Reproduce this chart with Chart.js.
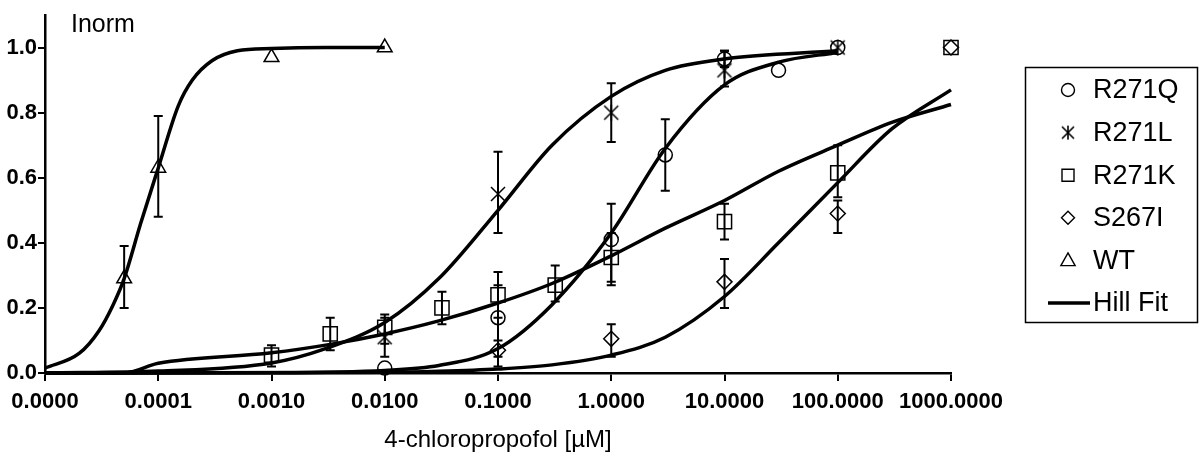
<!DOCTYPE html>
<html>
<head>
<meta charset="utf-8">
<script src="https://cdn.jsdelivr.net/npm/chart.js@4.4.1/dist/chart.umd.min.js"></script>
<style>
  body { margin: 0; background: #fff; }
  #wrap { width: 1200px; height: 458px; }
</style>
</head>
<body>
<div id="wrap"><canvas id="chart" width="1200" height="458"></canvas></div>
<script>
// axis ticks
const xTicks = [0.00001, 0.0001, 0.001, 0.01, 0.1, 1, 10, 100, 1000];
const yTicks = [0, 0.2, 0.4, 0.6, 0.8, 1.0];

// measured points (conc in µM, Inorm, error bar low/high)
const r271qX = [0.01, 0.1, 1, 3, 10, 30, 100];
const r271qY = [0.015, 0.17, 0.41, 0.67, 0.965, 0.93, 1.0];
const r271qLo = [null, 0.05, 0.27, 0.56, 0.94, null, null];
const r271qHi = [null, 0.27, 0.52, 0.78, 0.99, null, null];

const r271lX = [0.01, 0.1, 1, 10, 100];
const r271lY = [0.11, 0.55, 0.80, 0.93, 1.0];
const r271lLo = [0.05, 0.43, 0.71, 0.88, null];
const r271lHi = [0.17, 0.68, 0.89, 0.99, null];

const r271kX = [0.001, 0.0033, 0.01, 0.032, 0.1, 0.32, 1, 10, 100, 1000];
const r271kY = [0.055, 0.12, 0.14, 0.20, 0.24, 0.27, 0.355, 0.465, 0.615, 1.0];
const r271kLo = [0.02, 0.07, 0.09, 0.15, 0.17, 0.22, 0.28, 0.41, 0.54, null];
const r271kHi = [0.085, 0.17, 0.18, 0.25, 0.31, 0.33, 0.43, 0.52, 0.70, null];

const s267iX = [0.1, 1, 10, 100, 1000];
const s267iY = [0.07, 0.105, 0.28, 0.49, 1.0];
const s267iLo = [0.02, 0.05, 0.20, 0.43, null];
const s267iHi = [0.10, 0.15, 0.35, 0.53, null];

const wtX = [0.00005, 0.0001, 0.001, 0.01];
const wtY = [0.29, 0.63, 0.97, 1.0];
const wtLo = [0.20, 0.48, null, null];
const wtHi = [0.39, 0.79, null, null];

// Hill fit curves
const wtFitX = [0.00001, 0.00002, 0.00003, 0.00004, 0.00005, 0.00007, 0.0001, 0.00015, 0.0002, 0.0003, 0.0005, 0.001, 0.003, 0.01];
const wtFitY = [0.015, 0.06, 0.13, 0.21, 0.29, 0.46, 0.63, 0.82, 0.90, 0.96, 0.99, 0.997, 1.0, 1.0];

const r271lFitX = [0.00001, 0.0001, 0.001, 0.003, 0.01, 0.03, 0.1, 0.3, 1, 3, 10, 100];
const r271lFitY = [0.0, 0.006, 0.031, 0.075, 0.155, 0.29, 0.50, 0.70, 0.85, 0.93, 0.965, 0.99];

const r271qFitX = [0.00001, 0.001, 0.01, 0.03, 0.1, 0.3, 1, 3, 10, 30, 100];
const r271qFitY = [0.0, 0.001, 0.008, 0.023, 0.075, 0.21, 0.43, 0.69, 0.885, 0.955, 0.985];

const r271kFitX = [0.00001, 0.00005, 0.0001, 0.001, 0.0033, 0.01, 0.03, 0.1, 0.3, 1, 3, 10, 30, 100, 300, 1000];
const r271kFitY = [0.0, 0.0, 0.03, 0.062, 0.088, 0.12, 0.16, 0.215, 0.275, 0.36, 0.445, 0.53, 0.62, 0.70, 0.77, 0.825];

const s267iFitX = [0.00001, 0.01, 0.03, 0.1, 0.3, 1, 3, 10, 30, 100, 300, 1000];
const s267iFitY = [0.0, 0.002, 0.005, 0.012, 0.025, 0.055, 0.11, 0.235, 0.40, 0.585, 0.75, 0.87];

const seriesNames = ['R271Q', 'R271L', 'R271K', 'S267I', 'WT'];
const fitName = 'Hill Fit';

function pts(xs, ys) {
    return xs.map((x, i) => ({ x: x, y: ys[i] }));
}

// asterisk marker (X with a vertical stroke)
function makeStar(size, lw) {
    const c = document.createElement('canvas');
    c.width = size;
    c.height = size;
    const g = c.getContext('2d');
    g.strokeStyle = '#000';
    g.lineWidth = lw;
    const m = size / 2, r = size / 2 - 2;
    g.beginPath();
    g.moveTo(m - r, m - r); g.lineTo(m + r, m + r);
    g.moveTo(m + r, m - r); g.lineTo(m - r, m + r);
    g.moveTo(m, m - r - 1); g.lineTo(m, m + r + 1);
    g.stroke();
    return c;
}
const starBig = makeStar(18, 1.5);
const starSmall = makeStar(16, 1.6);

const markerSeries = [
    { x: r271qX, lo: r271qLo, hi: r271qHi },
    { x: r271lX, lo: r271lLo, hi: r271lHi },
    { x: r271kX, lo: r271kLo, hi: r271kHi },
    { x: s267iX, lo: s267iLo, hi: s267iHi },
    { x: wtX, lo: wtLo, hi: wtHi }
];

function markerSet(label, xs, ys, style, radius) {
    return {
        label: label,
        data: pts(xs, ys),
        pointStyle: style,
        pointRadius: radius,
        pointBorderWidth: 1.5,
        borderColor: '#000',
        backgroundColor: 'transparent',
        showLine: false,
        clip: false
    };
}

function fitSet(xs, ys) {
    return {
        label: fitName,
        data: pts(xs, ys),
        showLine: true,
        pointRadius: 0,
        borderColor: '#000',
        borderWidth: 3.5,
        cubicInterpolationMode: 'monotone',
        fill: false,
        clip: false
    };
}

// error bars drawn with the chart's scales
const errorBars = {
    id: 'errorBars',
    afterDatasetsDraw(chart) {
        const ctx = chart.ctx;
        const xs = chart.scales.x, ys = chart.scales.y;
        ctx.save();
        ctx.strokeStyle = '#000';
        ctx.lineWidth = 2;
        markerSeries.forEach(s => {
            s.x.forEach((xv, i) => {
                if (s.lo[i] == null) return;
                const px = xs.getPixelForValue(xv);
                const pLo = ys.getPixelForValue(s.lo[i]);
                const pHi = ys.getPixelForValue(s.hi[i]);
                ctx.beginPath();
                ctx.moveTo(px, pLo); ctx.lineTo(px, pHi);
                ctx.moveTo(px - 4.5, pLo); ctx.lineTo(px + 4.5, pLo);
                ctx.moveTo(px - 4.5, pHi); ctx.lineTo(px + 4.5, pHi);
                ctx.stroke();
            });
        });
        ctx.restore();
    }
};

function drawMarker(ctx, style, x, y, r) {
    ctx.beginPath();
    if (style === 'circle') {
        ctx.arc(x, y, r, 0, Math.PI * 2);
    } else if (style === 'rect') {
        ctx.rect(x - r, y - r, 2 * r, 2 * r);
    } else if (style === 'rectRot') {
        ctx.moveTo(x, y - r); ctx.lineTo(x + r, y); ctx.lineTo(x, y + r); ctx.lineTo(x - r, y); ctx.closePath();
    } else if (style === 'triangle') {
        ctx.moveTo(x, y - r); ctx.lineTo(x + r * 0.95, y + r * 0.7); ctx.lineTo(x - r * 0.95, y + r * 0.7); ctx.closePath();
    }
    ctx.stroke();
}

// boxed legend on the right plus the "Inorm" label
const sideLegend = {
    id: 'sideLegend',
    afterDraw(chart) {
        const ctx = chart.ctx;
        ctx.save();
        ctx.fillStyle = '#000';
        ctx.strokeStyle = '#000';
        ctx.font = '25px "Liberation Sans", Arial, sans-serif';
        ctx.textBaseline = 'alphabetic';
        ctx.fillText('Inorm', 71, 32);

        ctx.lineWidth = 1.5;
        ctx.strokeRect(1025.5, 67.5, 172, 255);

        const styles = ['circle', 'star', 'rect', 'rectRot', 'triangle'];
        const sizes = [6.5, 0, 6, 6.5, 7.5];
        ctx.font = '27px "Liberation Sans", Arial, sans-serif';
        ctx.textBaseline = 'middle';
        seriesNames.concat([fitName]).forEach((name, i) => {
            const y = 90 + i * 42.6;
            ctx.lineWidth = 1.4;
            if (i < 5) {
                if (styles[i] === 'star') {
                    ctx.drawImage(starSmall, 1068 - starSmall.width / 2, y - starSmall.height / 2);
                } else {
                    drawMarker(ctx, styles[i], 1068, y, sizes[i]);
                }
            } else {
                ctx.lineWidth = 3.5;
                ctx.beginPath();
                ctx.moveTo(1048, y); ctx.lineTo(1090, y);
                ctx.stroke();
            }
            ctx.fillText(name, 1093, y + 1);
        });
        ctx.restore();
    }
};

const tickFont = { family: '"Liberation Sans", Arial, sans-serif', size: 22, weight: 'bold' };

new Chart(document.getElementById('chart'), {
    type: 'scatter',
    data: {
        datasets: [
            markerSet(seriesNames[0], r271qX, r271qY, 'circle', 7),
            markerSet(seriesNames[1], r271lX, r271lY, starBig, 8),
            markerSet(seriesNames[2], r271kX, r271kY, 'rect', 10),
            markerSet(seriesNames[3], s267iX, s267iY, 'rectRot', 7.5),
            markerSet(seriesNames[4], wtX, wtY, 'triangle', 8.5),
            fitSet(wtFitX, wtFitY),
            fitSet(r271lFitX, r271lFitY),
            fitSet(r271qFitX, r271qFitY),
            fitSet(r271kFitX, r271kFitY),
            fitSet(s267iFitX, s267iFitY)
        ]
    },
    options: {
        responsive: false,
        animation: false,
        devicePixelRatio: 1,
        layout: { padding: { left: 0, top: 15, right: 249, bottom: 0 } },
        plugins: {
            legend: { display: false },
            tooltip: { enabled: false }
        },
        scales: {
            x: {
                type: 'logarithmic',
                min: 0.00001,
                max: 1000,
                afterBuildTicks: scale => { scale.ticks = xTicks.map(v => ({ value: v })); },
                afterFit: scale => { scale.height = 85; },
                grid: { drawOnChartArea: false, drawTicks: true, tickLength: 8, color: '#000', lineWidth: 2 },
                border: { color: '#000', width: 2.5 },
                ticks: {
                    autoSkip: false,
                    maxRotation: 0,
                    padding: 8,
                    color: '#000',
                    font: tickFont,
                    callback: v => Number(v).toFixed(4)
                },
                title: {
                    display: true,
                    text: '4-chloropropofol [µM]',
                    color: '#000',
                    font: { family: '"Liberation Sans", Arial, sans-serif', size: 24 },
                    padding: { top: 0, bottom: 3 }
                }
            },
            y: {
                min: 0,
                max: 1.1,
                afterBuildTicks: scale => { scale.ticks = yTicks.map(v => ({ value: v })); },
                afterFit: scale => { scale.width = 45; },
                grid: { drawOnChartArea: false, drawTicks: true, tickLength: 7, color: '#000', lineWidth: 2 },
                border: { color: '#000', width: 2.5 },
                ticks: {
                    padding: 1,
                    color: '#000',
                    font: tickFont,
                    callback: v => Number(v).toFixed(1)
                }
            }
        }
    },
    plugins: [errorBars, sideLegend]
});
</script>
</body>
</html>
